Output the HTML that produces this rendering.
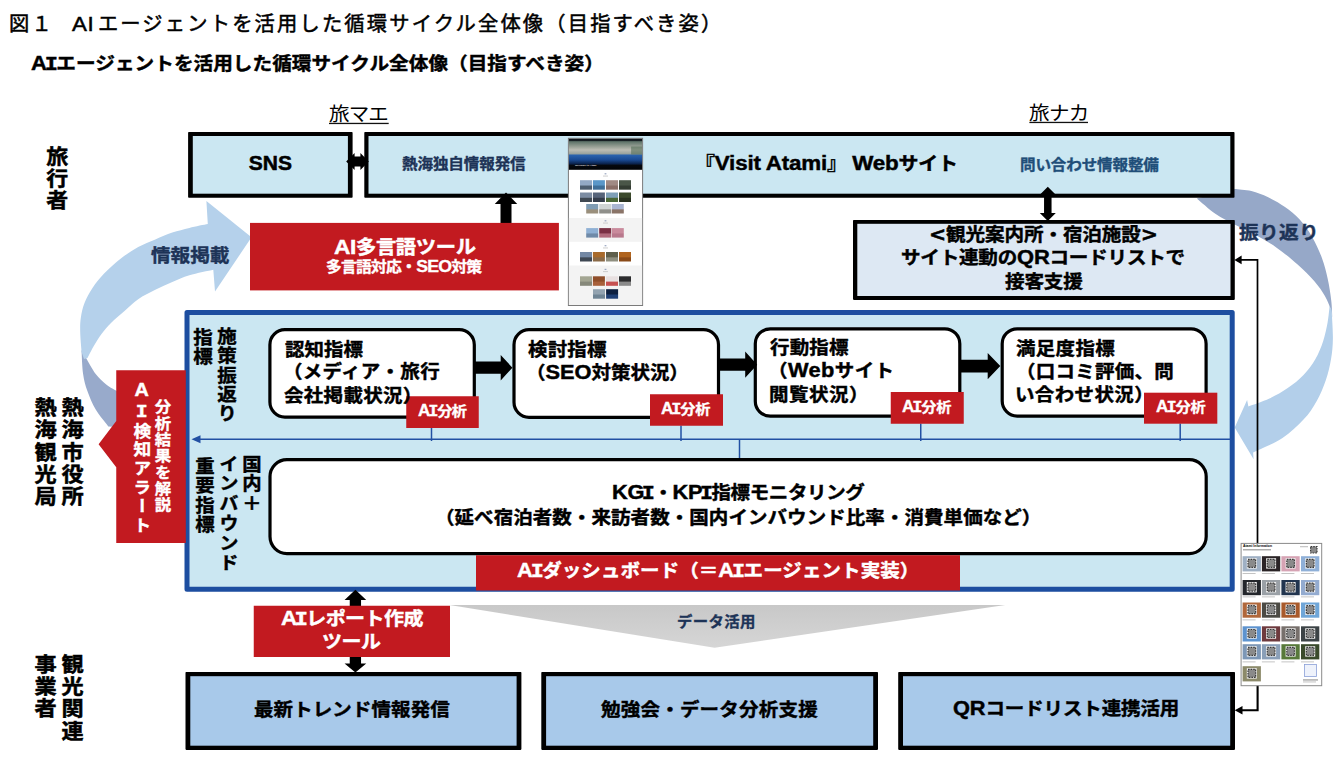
<!DOCTYPE html>
<html lang="ja">
<head>
<meta charset="utf-8">
<title>図１ AIエージェントを活用した循環サイクル全体像（目指すべき姿）</title>
<style>
html,body{margin:0;padding:0;background:#fff;}
body{width:1340px;height:762px;overflow:hidden;position:relative;font-family:"Liberation Sans","Noto Sans CJK JP",sans-serif;color:#000;}
.t{position:absolute;white-space:nowrap;line-height:1;margin:0;padding:0;transform-origin:0 0;}
.b{font-weight:700;-webkit-text-stroke:0.024em;}
.reg{font-weight:400;}
.med{font-weight:400;-webkit-text-stroke:0.5px;}
.w{color:#fff;}
.navy{color:#1d3357;}
.l{font-size:1.12em;}
.dj{font-family:"DejaVu Sans",sans-serif;font-size:1.05em;}
.si{font-family:"Liberation Mono",monospace;letter-spacing:-0.07em;margin-left:-0.1em;}
.v{writing-mode:vertical-rl;text-orientation:upright;}
#stage{position:absolute;left:0;top:0;width:1340px;height:762px;overflow:hidden;}svg{position:absolute;left:0;top:0;}
</style>
</head>
<body>
<div id="stage">
<svg width="1340" height="762" viewBox="0 0 1340 762">
<defs>
<linearGradient id="gG" x1="0" y1="0" x2="0" y2="1"><stop offset="0" stop-color="#c8c8c8"/><stop offset="1" stop-color="#d6d6d6"/></linearGradient>
</defs>
<path d="M1234.6,188.9 C1237.4,189.2 1245.8,189.6 1251.4,191.0 C1257.0,192.4 1262.6,194.6 1268.2,197.3 C1273.8,200.0 1279.8,203.3 1285.0,207.0 C1290.2,210.7 1295.2,214.6 1299.7,219.6 C1304.2,224.6 1308.6,230.8 1312.3,237.2 C1316.0,243.6 1319.4,251.2 1322.0,258.2 C1324.6,265.2 1326.3,272.2 1327.8,279.2 C1329.3,286.2 1330.5,293.7 1331.2,300.2 C1332.0,306.7 1332.1,315.0 1332.3,318.0 L1332.3,318 C1332.0,316.4 1331.6,312.3 1330.4,308.6 C1329.2,304.9 1327.6,300.6 1324.9,296.0 C1322.2,291.4 1319.0,286.6 1314.4,281.3 C1309.9,276.1 1303.9,270.1 1297.6,264.5 C1291.3,258.9 1283.6,252.6 1276.6,247.7 C1269.6,242.8 1262.6,238.9 1255.6,235.1 C1248.6,231.2 1241.2,228.1 1234.6,224.6 C1227.9,221.1 1222.0,218.4 1215.7,214.1 C1209.4,209.8 1200.0,201.2 1196.8,198.6 Z" fill="#96a8c8"/>
<path d="M1331.6,310.0 C1331.8,314.7 1333.0,330.0 1332.9,338.2 C1332.8,346.4 1332.2,352.2 1331.0,359.2 C1329.8,366.2 1328.2,373.2 1325.8,380.2 C1323.4,387.2 1320.3,394.6 1316.6,401.2 C1312.9,407.8 1309.2,413.5 1303.5,419.6 C1297.8,425.7 1290.4,432.8 1282.5,438.0 C1274.6,443.2 1261.1,448.7 1256.2,451.1 C1251.3,453.5 1253.6,452.2 1253.1,452.4 L1253.6,459.2 L1234.7,427.5 L1247.1,399.9 L1248.4,406.5 C1251.9,405.2 1262.9,401.7 1269.4,398.6 C1276.0,395.5 1282.0,392.0 1287.7,388.1 C1293.4,384.2 1298.9,379.8 1303.5,375.0 C1308.1,370.2 1312.0,364.9 1315.3,359.2 C1318.6,353.5 1321.2,347.0 1323.2,340.9 C1325.2,334.8 1326.5,328.3 1327.6,322.5 C1328.7,316.7 1329.3,308.8 1329.6,306.0 Z" fill="#b3cfea"/>
<path d="M81.5,350.0 C81.8,354.0 82.1,367.2 83.1,374.0 C84.1,380.8 85.2,384.9 87.3,390.8 C89.4,396.7 92.2,403.7 95.7,409.6 C99.2,415.5 106.2,423.6 108.3,426.4 L118,427 L118,391.5 L116.3,390.8 C114.6,389.8 109.6,387.3 106.2,384.5 C102.8,381.7 99.0,378.4 95.7,374.0 C92.4,369.6 87.8,360.8 86.2,358.2 Z" fill="#98aacb"/>
<path d="M206.4,201.1 L251.5,237.3 L215,291.5 L213.3,269.8 C209.3,270.7 196.2,273.2 189.4,275.3 C182.6,277.4 178.0,279.7 172.3,282.1 C166.6,284.5 161.0,287.0 155.3,289.8 C149.6,292.6 143.3,295.7 138.2,299.2 C133.1,302.7 129.0,307.0 124.5,311.0 C120.0,315.0 114.8,319.2 111.0,323.0 C107.2,326.8 104.4,330.1 101.5,334.0 C98.6,337.9 95.8,342.5 93.5,346.5 C91.2,350.5 88.5,356.1 87.5,358.0 L84,359 L81.6,352 C81.4,348.7 80.3,337.7 80.2,332.0 C80.1,326.3 80.1,322.8 80.8,318.0 C81.5,313.2 82.5,308.0 84.5,303.0 C86.5,298.0 89.2,292.9 92.5,288.0 C95.8,283.1 99.3,278.6 104.1,273.6 C108.9,268.6 115.5,262.6 121.2,258.2 C126.9,253.8 132.5,250.2 138.2,247.1 C143.9,244.0 149.6,241.9 155.3,239.5 C161.0,237.1 166.6,234.5 172.3,232.6 C178.0,230.7 183.5,229.3 189.4,227.9 C195.3,226.5 204.7,224.7 207.8,224.1 Z" fill="#b5d1eb"/>
<polygon points="449.5,605 1005.3,605 714.6,647.8" fill="url(#gG)"/>
<rect x="188.10" y="132.00" width="164.50" height="65.70" fill="#000" rx="0.8"/><rect x="192.80" y="136.00" width="155.10" height="57.70" fill="#cbe7f2"/>
<rect x="329.00" y="122.80" width="59.70" height="1.30" fill="#111"/>
<rect x="1029.40" y="121.80" width="58.60" height="1.30" fill="#111"/>
<rect x="364.30" y="132.00" width="870.20" height="65.70" fill="#000" rx="0.8"/><rect x="368.50" y="136.00" width="861.80" height="57.70" fill="#cbe7f2"/>
<polygon points="346.20,161.50 354.60,153.00 354.60,156.50 360.40,156.50 360.40,153.00 368.80,161.50 360.40,170.00 360.40,166.50 354.60,166.50 354.60,170.00" fill="#000"/>
<polygon points="500.50,204.00 494.75,204.00 506.00,192.50 517.25,204.00 511.50,204.00 511.50,224.00 500.50,224.00" fill="#000"/>
<rect x="250.00" y="222.90" width="308.90" height="67.50" fill="#c21a20"/>
<rect x="853.00" y="219.90" width="381.80" height="80.00" fill="#000" rx="0.8"/><rect x="857.30" y="223.80" width="373.20" height="72.20" fill="#dde8f3"/>
<polygon points="1044.05,194.70 1039.80,194.70 1047.80,186.70 1055.80,194.70 1051.55,194.70 1051.55,213.00 1055.80,213.00 1047.80,221.00 1039.80,213.00 1044.05,213.00" fill="#000"/>
<rect x="187.00" y="312.40" width="1045.20" height="276.80" rx="0" ry="0" fill="#cbe7f2" stroke="#1d4ea0" stroke-width="5" stroke-linejoin="round"/>
<g stroke="#2250a3" stroke-width="1.5" fill="none">
<line x1="198" y1="439.3" x2="1232" y2="439.3"/>
<line x1="431.5" y1="428" x2="431.5" y2="441"/>
<line x1="681" y1="425.5" x2="681" y2="441"/>
<line x1="920.75" y1="423.5" x2="920.75" y2="441"/>
<line x1="1180.2" y1="423.5" x2="1180.2" y2="441"/>
<line x1="739.5" y1="439.3" x2="739.5" y2="460"/>
</g>
<polygon points="191.5,439.3 200.5,435.3 200.5,443.3" fill="#2250a3"/>
<rect x="269.90" y="329.70" width="204.40" height="87.40" rx="15" ry="15" fill="#fff" stroke="#000" stroke-width="3.2" stroke-linejoin="round"/>
<rect x="514.00" y="329.70" width="204.50" height="87.60" rx="15" ry="15" fill="#fff" stroke="#000" stroke-width="3.2" stroke-linejoin="round"/>
<rect x="755.30" y="328.80" width="204.50" height="87.40" rx="15" ry="15" fill="#fff" stroke="#000" stroke-width="3.2" stroke-linejoin="round"/>
<rect x="1002.20" y="328.80" width="203.90" height="87.30" rx="15" ry="15" fill="#fff" stroke="#000" stroke-width="3.2" stroke-linejoin="round"/>
<polygon points="475.00,361.60 500.70,361.60 500.70,354.90 512.40,367.70 500.70,380.50 500.70,373.80 475.00,373.80" fill="#000"/>
<polygon points="719.00,358.60 745.20,358.60 745.20,351.60 757.20,364.70 745.20,377.80 745.20,370.80 719.00,370.80" fill="#000"/>
<polygon points="960.50,359.80 987.70,359.80 987.70,353.00 1000.30,366.10 987.70,379.20 987.70,372.40 960.50,372.40" fill="#000"/>
<rect x="270.00" y="459.60" width="936.20" height="94.00" rx="17" ry="17" fill="#fff" stroke="#000" stroke-width="3.2" stroke-linejoin="round"/>
<rect x="406.25" y="396.25" width="72.50" height="31.75" fill="#c21a20"/>
<rect x="650.00" y="394.25" width="73.00" height="31.50" fill="#c21a20"/>
<rect x="890.75" y="392.00" width="73.00" height="31.75" fill="#c21a20"/>
<rect x="1144.00" y="392.70" width="73.30" height="31.00" fill="#c21a20"/>
<rect x="476.00" y="555.20" width="484.00" height="35.30" fill="#c21a20"/>
<polygon points="116.25,370.2 185.8,370.2 185.8,543 116.25,543 116.25,467.2 98.6,444.2 116.25,421" fill="#c21a20"/>
<polygon points="349.75,600.10 344.55,600.10 355.40,589.70 366.25,600.10 361.05,600.10 361.05,606.50 349.75,606.50" fill="#000"/>
<polygon points="349.75,656.00 361.05,656.00 361.05,663.60 366.25,663.60 355.40,672.60 344.55,663.60 349.75,663.60" fill="#000"/>
<rect x="253.75" y="605.75" width="196.25" height="51.25" fill="#c21a20"/>
<rect x="185.50" y="672.00" width="335.90" height="77.90" fill="#000" rx="0.8"/><rect x="190.30" y="676.20" width="326.30" height="69.50" fill="#a8c9ea"/>
<rect x="541.30" y="672.00" width="336.70" height="77.90" fill="#000" rx="0.8"/><rect x="546.10" y="676.20" width="327.10" height="69.50" fill="#a8c9ea"/>
<rect x="898.20" y="672.00" width="336.80" height="77.90" fill="#000" rx="0.8"/><rect x="903.00" y="676.20" width="327.20" height="69.50" fill="#a8c9ea"/>
<polyline points="1240,259.9 1257.5,259.9 1257.5,545" fill="none" stroke="#000" stroke-width="1.7"/>
<polyline points="1257.6,684 1257.6,710.2 1240,710.2" fill="none" stroke="#000" stroke-width="2.1"/>
<polygon points="1234.4,259.9 1241.6,255.5 1241.6,264.3" fill="#000"/>
<polygon points="1234.7,710.2 1242.5,706 1242.5,714.4" fill="#000"/>
<rect x="568.4" y="138.3" width="74.20000000000005" height="167.2" fill="#fff" stroke="#7a7a7a" stroke-width="1"/>
<defs><linearGradient id="gH" x1="0" y1="0" x2="0" y2="1"><stop offset="0" stop-color="#10151a"/><stop offset="0.07" stop-color="#1a2226"/><stop offset="0.09" stop-color="#5d7268"/><stop offset="0.22" stop-color="#8c978c"/><stop offset="0.36" stop-color="#bdbdb4"/><stop offset="0.48" stop-color="#9aa39e"/><stop offset="0.53" stop-color="#2a62ad"/><stop offset="0.68" stop-color="#1a4a93"/><stop offset="0.8" stop-color="#0b244f"/><stop offset="0.86" stop-color="#05080e"/><stop offset="1" stop-color="#030406"/></linearGradient></defs>
<rect x="568.9" y="138.8" width="73.20000000000005" height="31.0" fill="url(#gH)"/>
<rect x="631.1" y="146.5" width="11" height="8" fill="#4f6a52" opacity="0.55"/>
<rect x="568.90" y="218.00" width="73.20" height="23.80" fill="#f3f3f3"/>
<rect x="568.90" y="265.50" width="73.20" height="39.50" fill="#f3f3f3"/>
<linearGradient id="th1" x1="0" y1="0" x2="0" y2="1"><stop offset="0.15" stop-color="#93a9c4"/><stop offset="0.5" stop-color="#93a9c4"/><stop offset="0.62" stop-color="#4e5f70"/><stop offset="1" stop-color="#4e5f70"/></linearGradient>
<rect x="580.0" y="180.2" width="12" height="9.5" fill="url(#th1)"/>
<linearGradient id="th2" x1="0" y1="0" x2="0" y2="1"><stop offset="0.15" stop-color="#5a97c8"/><stop offset="0.5" stop-color="#5a97c8"/><stop offset="0.62" stop-color="#3f6f98"/><stop offset="1" stop-color="#3f6f98"/></linearGradient>
<rect x="592.9" y="180.2" width="12" height="9.5" fill="url(#th2)"/>
<linearGradient id="th3" x1="0" y1="0" x2="0" y2="1"><stop offset="0.15" stop-color="#a08a84"/><stop offset="0.5" stop-color="#a08a84"/><stop offset="0.62" stop-color="#8a6f68"/><stop offset="1" stop-color="#8a6f68"/></linearGradient>
<rect x="606.0" y="180.2" width="12" height="9.5" fill="url(#th3)"/>
<linearGradient id="th4" x1="0" y1="0" x2="0" y2="1"><stop offset="0.15" stop-color="#4a5648"/><stop offset="0.5" stop-color="#4a5648"/><stop offset="0.62" stop-color="#343d33"/><stop offset="1" stop-color="#343d33"/></linearGradient>
<rect x="619.0" y="180.2" width="12" height="9.5" fill="url(#th4)"/>
<linearGradient id="th5" x1="0" y1="0" x2="0" y2="1"><stop offset="0.15" stop-color="#7c8ca2"/><stop offset="0.5" stop-color="#7c8ca2"/><stop offset="0.62" stop-color="#3f4852"/><stop offset="1" stop-color="#3f4852"/></linearGradient>
<rect x="580.0" y="192.5" width="12" height="9.5" fill="url(#th5)"/>
<linearGradient id="th6" x1="0" y1="0" x2="0" y2="1"><stop offset="0.15" stop-color="#56647a"/><stop offset="0.5" stop-color="#56647a"/><stop offset="0.62" stop-color="#333c4a"/><stop offset="1" stop-color="#333c4a"/></linearGradient>
<rect x="592.9" y="192.5" width="12" height="9.5" fill="url(#th6)"/>
<linearGradient id="th7" x1="0" y1="0" x2="0" y2="1"><stop offset="0.15" stop-color="#7fa0b8"/><stop offset="0.5" stop-color="#7fa0b8"/><stop offset="0.62" stop-color="#4a6838"/><stop offset="1" stop-color="#4a6838"/></linearGradient>
<rect x="606.0" y="192.5" width="12" height="9.5" fill="url(#th7)"/>
<linearGradient id="th8" x1="0" y1="0" x2="0" y2="1"><stop offset="0.15" stop-color="#3c4a2c"/><stop offset="0.5" stop-color="#3c4a2c"/><stop offset="0.62" stop-color="#2a3320"/><stop offset="1" stop-color="#2a3320"/></linearGradient>
<rect x="619.0" y="192.5" width="12" height="9.5" fill="url(#th8)"/>
<linearGradient id="th9" x1="0" y1="0" x2="0" y2="1"><stop offset="0.15" stop-color="#7f9cb4"/><stop offset="0.5" stop-color="#7f9cb4"/><stop offset="0.62" stop-color="#9a8f7c"/><stop offset="1" stop-color="#9a8f7c"/></linearGradient>
<rect x="586.2" y="204.0" width="12" height="9.5" fill="url(#th9)"/>
<linearGradient id="th10" x1="0" y1="0" x2="0" y2="1"><stop offset="0.15" stop-color="#cfd4d4"/><stop offset="0.5" stop-color="#cfd4d4"/><stop offset="0.62" stop-color="#8f8f8a"/><stop offset="1" stop-color="#8f8f8a"/></linearGradient>
<rect x="599.2" y="204.0" width="12" height="9.5" fill="url(#th10)"/>
<linearGradient id="th11" x1="0" y1="0" x2="0" y2="1"><stop offset="0.15" stop-color="#aab6d2"/><stop offset="0.5" stop-color="#aab6d2"/><stop offset="0.62" stop-color="#8a7468"/><stop offset="1" stop-color="#8a7468"/></linearGradient>
<rect x="611.8" y="204.0" width="12" height="9.5" fill="url(#th11)"/>
<linearGradient id="th12" x1="0" y1="0" x2="0" y2="1"><stop offset="0.15" stop-color="#8fb0d4"/><stop offset="0.5" stop-color="#8fb0d4"/><stop offset="0.62" stop-color="#6f8aa8"/><stop offset="1" stop-color="#6f8aa8"/></linearGradient>
<rect x="586.2" y="228.1" width="12" height="9.5" fill="url(#th12)"/>
<linearGradient id="th13" x1="0" y1="0" x2="0" y2="1"><stop offset="0.15" stop-color="#7a3044"/><stop offset="0.5" stop-color="#7a3044"/><stop offset="0.62" stop-color="#b06a7c"/><stop offset="1" stop-color="#b06a7c"/></linearGradient>
<rect x="599.2" y="228.1" width="12" height="9.5" fill="url(#th13)"/>
<linearGradient id="th14" x1="0" y1="0" x2="0" y2="1"><stop offset="0.15" stop-color="#c98a9c"/><stop offset="0.5" stop-color="#c98a9c"/><stop offset="0.62" stop-color="#b8788c"/><stop offset="1" stop-color="#b8788c"/></linearGradient>
<rect x="611.8" y="228.1" width="12" height="9.5" fill="url(#th14)"/>
<linearGradient id="th15" x1="0" y1="0" x2="0" y2="1"><stop offset="0.15" stop-color="#7488a4"/><stop offset="0.5" stop-color="#7488a4"/><stop offset="0.62" stop-color="#3f4854"/><stop offset="1" stop-color="#3f4854"/></linearGradient>
<rect x="580.0" y="252.0" width="12" height="9.5" fill="url(#th15)"/>
<linearGradient id="th16" x1="0" y1="0" x2="0" y2="1"><stop offset="0.15" stop-color="#a86a2c"/><stop offset="0.5" stop-color="#a86a2c"/><stop offset="0.62" stop-color="#8a6a48"/><stop offset="1" stop-color="#8a6a48"/></linearGradient>
<rect x="592.9" y="252.0" width="12" height="9.5" fill="url(#th16)"/>
<linearGradient id="th17" x1="0" y1="0" x2="0" y2="1"><stop offset="0.15" stop-color="#5f5f4c"/><stop offset="0.5" stop-color="#5f5f4c"/><stop offset="0.62" stop-color="#8f8f80"/><stop offset="1" stop-color="#8f8f80"/></linearGradient>
<rect x="606.0" y="252.0" width="12" height="9.5" fill="url(#th17)"/>
<linearGradient id="th18" x1="0" y1="0" x2="0" y2="1"><stop offset="0.15" stop-color="#b0641f"/><stop offset="0.5" stop-color="#b0641f"/><stop offset="0.62" stop-color="#8a4a18"/><stop offset="1" stop-color="#8a4a18"/></linearGradient>
<rect x="619.0" y="252.0" width="12" height="9.5" fill="url(#th18)"/>
<linearGradient id="th19" x1="0" y1="0" x2="0" y2="1"><stop offset="0.15" stop-color="#a3a592"/><stop offset="0.5" stop-color="#a3a592"/><stop offset="0.62" stop-color="#86887a"/><stop offset="1" stop-color="#86887a"/></linearGradient>
<rect x="580.0" y="276.3" width="12" height="9.5" fill="url(#th19)"/>
<linearGradient id="th20" x1="0" y1="0" x2="0" y2="1"><stop offset="0.15" stop-color="#8f4e2a"/><stop offset="0.5" stop-color="#8f4e2a"/><stop offset="0.62" stop-color="#a8603a"/><stop offset="1" stop-color="#a8603a"/></linearGradient>
<rect x="592.9" y="276.3" width="12" height="9.5" fill="url(#th20)"/>
<linearGradient id="th21" x1="0" y1="0" x2="0" y2="1"><stop offset="0.15" stop-color="#e8e0e0"/><stop offset="0.5" stop-color="#e8e0e0"/><stop offset="0.62" stop-color="#c65050"/><stop offset="1" stop-color="#c65050"/></linearGradient>
<rect x="606.0" y="276.3" width="12" height="9.5" fill="url(#th21)"/>
<linearGradient id="th22" x1="0" y1="0" x2="0" y2="1"><stop offset="0.15" stop-color="#2c2c2e"/><stop offset="0.5" stop-color="#2c2c2e"/><stop offset="0.62" stop-color="#8a8a8a"/><stop offset="1" stop-color="#8a8a8a"/></linearGradient>
<rect x="619.0" y="276.3" width="12" height="9.5" fill="url(#th22)"/>
<linearGradient id="th23" x1="0" y1="0" x2="0" y2="1"><stop offset="0.15" stop-color="#93a3b0"/><stop offset="0.5" stop-color="#93a3b0"/><stop offset="0.62" stop-color="#6f8494"/><stop offset="1" stop-color="#6f8494"/></linearGradient>
<rect x="593.0" y="289.2" width="12" height="9.5" fill="url(#th23)"/>
<linearGradient id="th24" x1="0" y1="0" x2="0" y2="1"><stop offset="0.15" stop-color="#0f2140"/><stop offset="0.5" stop-color="#0f2140"/><stop offset="0.62" stop-color="#1f3f74"/><stop offset="1" stop-color="#1f3f74"/></linearGradient>
<rect x="606.1" y="289.2" width="12" height="9.5" fill="url(#th24)"/>
<rect x="603.00" y="175.60" width="5.00" height="0.90" fill="#c9c9c9"/>
<rect x="604.60" y="173.20" width="1.80" height="1.20" fill="#9aa6c0"/>
<rect x="603.00" y="222.60" width="5.00" height="0.90" fill="#c9c9c9"/>
<rect x="604.60" y="220.20" width="1.80" height="1.20" fill="#9aa6c0"/>
<rect x="603.00" y="247.50" width="5.00" height="0.90" fill="#c9c9c9"/>
<rect x="604.60" y="245.10" width="1.80" height="1.20" fill="#9aa6c0"/>
<rect x="603.00" y="271.20" width="5.00" height="0.90" fill="#c9c9c9"/>
<rect x="604.60" y="268.80" width="1.80" height="1.20" fill="#9aa6c0"/>
<rect x="1241.1" y="543.4" width="80.60000000000014" height="142.30000000000007" fill="#fff" stroke="#8a8a8a" stroke-width="1"/>
<rect x="1242.60" y="556.20" width="18.30" height="15.20" fill="#9fb0c4"/>
<rect x="1246.80" y="558.20" width="10.00" height="10.40" fill="#f0f0f0"/>
<rect x="1248.0" y="559.4" width="7.6" height="8" fill="#8a8a8a" stroke="#3c3c3c" stroke-width="1.2" stroke-dasharray="1.6 1"/>
<rect x="1261.90" y="556.20" width="18.30" height="15.20" fill="#2a2326"/>
<rect x="1266.10" y="558.20" width="10.00" height="10.40" fill="#f0f0f0"/>
<rect x="1267.3" y="559.4" width="7.6" height="8" fill="#8a8a8a" stroke="#3c3c3c" stroke-width="1.2" stroke-dasharray="1.6 1"/>
<rect x="1281.40" y="556.20" width="18.30" height="15.20" fill="#d6a3b4"/>
<rect x="1285.60" y="558.20" width="10.00" height="10.40" fill="#f0f0f0"/>
<rect x="1286.8" y="559.4" width="7.6" height="8" fill="#8a8a8a" stroke="#3c3c3c" stroke-width="1.2" stroke-dasharray="1.6 1"/>
<rect x="1301.00" y="556.20" width="18.30" height="15.20" fill="#8fb0d8"/>
<rect x="1305.20" y="558.20" width="10.00" height="10.40" fill="#f0f0f0"/>
<rect x="1306.4" y="559.4" width="7.6" height="8" fill="#8a8a8a" stroke="#3c3c3c" stroke-width="1.2" stroke-dasharray="1.6 1"/>
<rect x="1242.60" y="580.00" width="18.30" height="15.20" fill="#23262b"/>
<rect x="1246.80" y="582.00" width="10.00" height="10.40" fill="#f0f0f0"/>
<rect x="1248.0" y="583.2" width="7.6" height="8" fill="#8a8a8a" stroke="#3c3c3c" stroke-width="1.2" stroke-dasharray="1.6 1"/>
<rect x="1261.90" y="580.00" width="18.30" height="15.20" fill="#9aa0a6"/>
<rect x="1266.10" y="582.00" width="10.00" height="10.40" fill="#f0f0f0"/>
<rect x="1267.3" y="583.2" width="7.6" height="8" fill="#8a8a8a" stroke="#3c3c3c" stroke-width="1.2" stroke-dasharray="1.6 1"/>
<rect x="1281.40" y="580.00" width="18.30" height="15.20" fill="#22354f"/>
<rect x="1285.60" y="582.00" width="10.00" height="10.40" fill="#f0f0f0"/>
<rect x="1286.8" y="583.2" width="7.6" height="8" fill="#8a8a8a" stroke="#3c3c3c" stroke-width="1.2" stroke-dasharray="1.6 1"/>
<rect x="1301.00" y="580.00" width="18.30" height="15.20" fill="#93abd0"/>
<rect x="1305.20" y="582.00" width="10.00" height="10.40" fill="#f0f0f0"/>
<rect x="1306.4" y="583.2" width="7.6" height="8" fill="#8a8a8a" stroke="#3c3c3c" stroke-width="1.2" stroke-dasharray="1.6 1"/>
<rect x="1242.60" y="602.50" width="18.30" height="15.20" fill="#b0683c"/>
<rect x="1246.80" y="604.50" width="10.00" height="10.40" fill="#f0f0f0"/>
<rect x="1248.0" y="605.7" width="7.6" height="8" fill="#8a8a8a" stroke="#3c3c3c" stroke-width="1.2" stroke-dasharray="1.6 1"/>
<rect x="1261.90" y="602.50" width="18.30" height="15.20" fill="#4c4a44"/>
<rect x="1266.10" y="604.50" width="10.00" height="10.40" fill="#f0f0f0"/>
<rect x="1267.3" y="605.7" width="7.6" height="8" fill="#8a8a8a" stroke="#3c3c3c" stroke-width="1.2" stroke-dasharray="1.6 1"/>
<rect x="1281.40" y="602.50" width="18.30" height="15.20" fill="#a85a2c"/>
<rect x="1285.60" y="604.50" width="10.00" height="10.40" fill="#f0f0f0"/>
<rect x="1286.8" y="605.7" width="7.6" height="8" fill="#8a8a8a" stroke="#3c3c3c" stroke-width="1.2" stroke-dasharray="1.6 1"/>
<rect x="1301.00" y="602.50" width="18.30" height="15.20" fill="#6fa6d8"/>
<rect x="1305.20" y="604.50" width="10.00" height="10.40" fill="#f0f0f0"/>
<rect x="1306.4" y="605.7" width="7.6" height="8" fill="#8a8a8a" stroke="#3c3c3c" stroke-width="1.2" stroke-dasharray="1.6 1"/>
<rect x="1242.60" y="626.30" width="18.30" height="15.20" fill="#5d93cf"/>
<rect x="1246.80" y="628.30" width="10.00" height="10.40" fill="#f0f0f0"/>
<rect x="1248.0" y="629.5" width="7.6" height="8" fill="#8a8a8a" stroke="#3c3c3c" stroke-width="1.2" stroke-dasharray="1.6 1"/>
<rect x="1261.90" y="626.30" width="18.30" height="15.20" fill="#6e3a3e"/>
<rect x="1266.10" y="628.30" width="10.00" height="10.40" fill="#f0f0f0"/>
<rect x="1267.3" y="629.5" width="7.6" height="8" fill="#8a8a8a" stroke="#3c3c3c" stroke-width="1.2" stroke-dasharray="1.6 1"/>
<rect x="1281.40" y="626.30" width="18.30" height="15.20" fill="#77706c"/>
<rect x="1285.60" y="628.30" width="10.00" height="10.40" fill="#f0f0f0"/>
<rect x="1286.8" y="629.5" width="7.6" height="8" fill="#8a8a8a" stroke="#3c3c3c" stroke-width="1.2" stroke-dasharray="1.6 1"/>
<rect x="1301.00" y="626.30" width="18.30" height="15.20" fill="#3c4346"/>
<rect x="1305.20" y="628.30" width="10.00" height="10.40" fill="#f0f0f0"/>
<rect x="1306.4" y="629.5" width="7.6" height="8" fill="#8a8a8a" stroke="#3c3c3c" stroke-width="1.2" stroke-dasharray="1.6 1"/>
<rect x="1242.60" y="644.20" width="18.30" height="15.20" fill="#7d97b6"/>
<rect x="1246.80" y="646.20" width="10.00" height="10.40" fill="#f0f0f0"/>
<rect x="1248.0" y="647.4" width="7.6" height="8" fill="#8a8a8a" stroke="#3c3c3c" stroke-width="1.2" stroke-dasharray="1.6 1"/>
<rect x="1261.90" y="644.20" width="18.30" height="15.20" fill="#8a9fb8"/>
<rect x="1266.10" y="646.20" width="10.00" height="10.40" fill="#f0f0f0"/>
<rect x="1267.3" y="647.4" width="7.6" height="8" fill="#8a8a8a" stroke="#3c3c3c" stroke-width="1.2" stroke-dasharray="1.6 1"/>
<rect x="1281.40" y="644.20" width="18.30" height="15.20" fill="#58793a"/>
<rect x="1285.60" y="646.20" width="10.00" height="10.40" fill="#f0f0f0"/>
<rect x="1286.8" y="647.4" width="7.6" height="8" fill="#8a8a8a" stroke="#3c3c3c" stroke-width="1.2" stroke-dasharray="1.6 1"/>
<rect x="1301.00" y="644.20" width="18.30" height="15.20" fill="#3a4a2c"/>
<rect x="1305.20" y="646.20" width="10.00" height="10.40" fill="#f0f0f0"/>
<rect x="1306.4" y="647.4" width="7.6" height="8" fill="#8a8a8a" stroke="#3c3c3c" stroke-width="1.2" stroke-dasharray="1.6 1"/>
<rect x="1242.60" y="666.20" width="18.30" height="15.20" fill="#8c8a6a"/>
<rect x="1246.80" y="668.20" width="10.00" height="10.40" fill="#f0f0f0"/>
<rect x="1248.0" y="669.4" width="7.6" height="8" fill="#8a8a8a" stroke="#3c3c3c" stroke-width="1.2" stroke-dasharray="1.6 1"/>
<rect x="1310.6" y="546.6" width="6.4" height="6.4" fill="#8a8a8a" stroke="#3c3c3c" stroke-width="1.2" stroke-dasharray="1.6 1"/>
<rect x="1304.5" y="664.5" width="12" height="12" fill="#eef2fb" stroke="#8aa0d8" stroke-width="0.8"/>
<rect x="1243.00" y="549.20" width="28.00" height="1.20" fill="#9a9a9a"/>
<rect x="1300.00" y="546.30" width="8.00" height="0.90" fill="#b0b0b0"/>
<rect x="1303.00" y="679.50" width="15.00" height="0.90" fill="#777"/>
<rect x="1303.00" y="681.60" width="13.00" height="0.70" fill="#aaa"/>
<rect x="1242.60" y="573.00" width="13.00" height="0.80" fill="#b5b5b5"/>
<rect x="1261.90" y="573.00" width="13.00" height="0.80" fill="#b5b5b5"/>
<rect x="1281.40" y="573.00" width="13.00" height="0.80" fill="#b5b5b5"/>
<rect x="1301.00" y="573.00" width="13.00" height="0.80" fill="#b5b5b5"/>
<rect x="1242.60" y="596.50" width="13.00" height="0.80" fill="#b5b5b5"/>
<rect x="1261.90" y="596.50" width="13.00" height="0.80" fill="#b5b5b5"/>
<rect x="1281.40" y="596.50" width="13.00" height="0.80" fill="#b5b5b5"/>
<rect x="1301.00" y="596.50" width="13.00" height="0.80" fill="#b5b5b5"/>
<rect x="1242.60" y="619.50" width="13.00" height="0.80" fill="#b5b5b5"/>
<rect x="1261.90" y="619.50" width="13.00" height="0.80" fill="#b5b5b5"/>
<rect x="1281.40" y="619.50" width="13.00" height="0.80" fill="#b5b5b5"/>
<rect x="1301.00" y="619.50" width="13.00" height="0.80" fill="#b5b5b5"/>
<rect x="1242.60" y="661.50" width="13.00" height="0.80" fill="#b5b5b5"/>
<rect x="1261.90" y="661.50" width="13.00" height="0.80" fill="#b5b5b5"/>
<rect x="1281.40" y="661.50" width="13.00" height="0.80" fill="#b5b5b5"/>
<rect x="1301.00" y="661.50" width="13.00" height="0.80" fill="#b5b5b5"/>
</svg>
<div class="t med" style="left:8.9px;top:13.6px;font-size:20.3px;letter-spacing:2.41px;">図１</div>
<div class="t med" style="left:71.7px;top:13.7px;font-size:20.3px;letter-spacing:0.60px;transform:scaleX(1.1);">AI</div>
<div class="t med" style="left:97.9px;top:14.0px;font-size:20.3px;letter-spacing:2.16px;">エージェントを活用した循環サイクル全体像（目指すべき姿）</div>
<div class="t b" style="left:31.2px;top:53.3px;font-size:18.16px;letter-spacing:0.04px;transform:scaleX(1.08);"><span class="l">A<span class="si">I</span></span>エージェントを活用した循環サイクル全体像（目指すべき姿）</div>
<div class="t reg" style="left:328.9px;top:105.2px;font-size:19px;letter-spacing:-0.82px;transform:scaleX(1.08);">旅マエ</div>
<div class="t reg" style="left:1029.2px;top:104.0px;font-size:19px;letter-spacing:-0.55px;transform:scaleX(1.08);">旅ナカ</div>
<div class="t b" style="left:248.8px;top:151.5px;font-size:21px;letter-spacing:-0.01px;">SNS</div>
<div class="t b navy" style="left:402.4px;top:157.1px;font-size:14.43px;letter-spacing:-0.12px;transform:scaleX(1.08);">熱海独自情報発信</div>
<div class="t b" style="left:695.3px;top:152.8px;font-size:18.5px;letter-spacing:-0.18px;transform:scaleX(1.08);">『<span class="l">Visit Atami</span>』 <span class="l">Web</span>サイト</div>
<div class="t b" style="left:1019.6px;top:158.2px;font-size:14.43px;letter-spacing:-0.15px;transform:scaleX(1.08);color:#1f4e79;">問い合わせ情報整備</div>
<div class="t b w" style="left:333.6px;top:235.6px;font-size:18.78px;letter-spacing:-0.32px;transform:scaleX(1.08);"><span class="l">AI</span>多言語ツール</div>
<div class="t b w" style="left:326.3px;top:258.0px;font-size:14.62px;letter-spacing:-0.70px;transform:scaleX(1.08);">多言語対応・<span class="l">SEO</span>対策</div>
<div class="t b navy" style="left:150.8px;top:246.9px;font-size:18.22px;letter-spacing:-0.07px;transform:scaleX(1.08);">情報掲載</div>
<div class="t b navy" style="left:1239.0px;top:224.0px;font-size:18.22px;letter-spacing:0.30px;transform:scaleX(1.08);">振り返り</div>
<div class="t b" style="left:928.9px;top:224.8px;font-size:18.13px;letter-spacing:-0.09px;transform:scaleX(1.08);"><span class="dj">&lt;</span>観光案内所・宿泊施設<span class="dj">&gt;</span></div>
<div class="t b" style="left:901.0px;top:247.1px;font-size:18.13px;letter-spacing:-0.20px;transform:scaleX(1.08);">サイト連動の<span class="l">QR</span>コードリストで</div>
<div class="t b" style="left:1004.7px;top:272.9px;font-size:18.13px;letter-spacing:-0.13px;transform:scaleX(1.08);">接客支援</div>
<div class="t b" style="left:284.5px;top:341.0px;font-size:18.04px;letter-spacing:0.05px;transform:scaleX(1.08);">認知指標</div>
<div class="t b" style="left:283.4px;top:363.1px;font-size:18.04px;letter-spacing:0.29px;transform:scaleX(1.08);">（メディア・旅行</div>
<div class="t b" style="left:284.2px;top:387.1px;font-size:18.04px;letter-spacing:0.30px;transform:scaleX(1.08);">会社掲載状況）</div>
<div class="t b" style="left:528.3px;top:340.8px;font-size:18.04px;letter-spacing:0.17px;transform:scaleX(1.08);">検討指標</div>
<div class="t b" style="left:526.4px;top:362.0px;font-size:18.04px;letter-spacing:-0.01px;transform:scaleX(1.08);">（<span class="l">SEO</span>対策状況）</div>
<div class="t b" style="left:769.8px;top:339.2px;font-size:18.04px;letter-spacing:0.15px;transform:scaleX(1.08);">行動指標</div>
<div class="t b" style="left:768.2px;top:360.3px;font-size:18.04px;letter-spacing:0.38px;transform:scaleX(1.08);">（<span class="l">Web</span>サイト</div>
<div class="t b" style="left:768.8px;top:386.1px;font-size:18.04px;letter-spacing:0.49px;transform:scaleX(1.08);">閲覧状況）</div>
<div class="t b" style="left:1015.8px;top:340.0px;font-size:18.04px;letter-spacing:0.30px;transform:scaleX(1.08);">満足度指標</div>
<div class="t b" style="left:1015.9px;top:363.1px;font-size:18.04px;letter-spacing:0.25px;transform:scaleX(1.08);">（口コミ評価、問</div>
<div class="t b" style="left:1015.0px;top:386.3px;font-size:18.04px;letter-spacing:0.36px;transform:scaleX(1.08);">い合わせ状況）</div>
<div class="t b w" style="left:418.1px;top:402.7px;font-size:14.06px;letter-spacing:-0.43px;transform:scaleX(1.08);"><span class="l">A<span class="si">I</span></span>分析</div>
<div class="t b w" style="left:661.2px;top:401.0px;font-size:14.06px;letter-spacing:-0.29px;transform:scaleX(1.08);"><span class="l">A<span class="si">I</span></span>分析</div>
<div class="t b w" style="left:902.3px;top:398.8px;font-size:14.06px;letter-spacing:-0.27px;transform:scaleX(1.08);"><span class="l">A<span class="si">I</span></span>分析</div>
<div class="t b w" style="left:1155.9px;top:399.3px;font-size:14.06px;letter-spacing:-0.14px;transform:scaleX(1.08);"><span class="l">A<span class="si">I</span></span>分析</div>
<div class="t b" style="left:612.0px;top:482.3px;font-size:18.04px;letter-spacing:-0.33px;transform:scaleX(1.08);"><span class="l">KG<span class="si">I</span></span>・<span class="l">KP<span class="si">I</span></span>指標モニタリング</div>
<div class="t b" style="left:435.0px;top:509.2px;font-size:18.04px;letter-spacing:0.08px;transform:scaleX(1.08);">（延べ宿泊者数・来訪者数・国内インバウンド比率・消費単価など）</div>
<div class="t b w" style="left:517.3px;top:559.9px;font-size:18.04px;letter-spacing:0.09px;transform:scaleX(1.08);"><span class="l">A<span class="si">I</span></span>ダッシュボード（＝<span class="l">A<span class="si">I</span></span>エージェント実装）</div>
<div class="t b navy" style="left:677.2px;top:615.1px;font-size:14.25px;letter-spacing:0.33px;transform:scaleX(1.08);">データ活用</div>
<div class="t b w" style="left:280.7px;top:608.1px;font-size:18.5px;letter-spacing:-0.51px;transform:scaleX(1.08);"><span class="l">A<span class="si">I</span></span>レポート作成</div>
<div class="t b w" style="left:322.1px;top:633.1px;font-size:18.5px;letter-spacing:-0.41px;transform:scaleX(1.08);">ツール</div>
<div class="t b" style="left:254.3px;top:700.8px;font-size:18.04px;letter-spacing:0.10px;transform:scaleX(1.08);">最新トレンド情報発信</div>
<div class="t b" style="left:601.4px;top:701.1px;font-size:18.04px;letter-spacing:0.23px;transform:scaleX(1.08);">勉強会・データ分析支援</div>
<div class="t b" style="left:953.4px;top:698.4px;font-size:18.04px;letter-spacing:-0.10px;transform:scaleX(1.08);"><span class="l">QR</span>コードリスト連携活用</div>
<div class="t b v" style="left:43.9px;top:146.2px;font-size:20.35px;letter-spacing:1.63px;transform:scaleX(1.08);">旅行者</div>
<div class="t b v" style="left:58.8px;top:396.8px;font-size:20.54px;letter-spacing:1.78px;transform:scaleX(1.08);">熱海市役所</div>
<div class="t b v" style="left:32.1px;top:396.8px;font-size:20.54px;letter-spacing:1.71px;transform:scaleX(1.08);">熱海観光局</div>
<div class="t b v" style="left:59.0px;top:654.4px;font-size:20.54px;letter-spacing:1.65px;transform:scaleX(1.08);">観光関連</div>
<div class="t b v" style="left:32.0px;top:654.0px;font-size:20.54px;letter-spacing:1.62px;transform:scaleX(1.08);">事業者</div>
<div class="t b v" style="left:214.8px;top:327.2px;font-size:18.04px;letter-spacing:1.30px;transform:scaleX(1.08);">施策振返り</div>
<div class="t b v" style="left:191.2px;top:327.5px;font-size:18.04px;letter-spacing:1.52px;transform:scaleX(1.08);">指標</div>
<div class="t b v" style="left:239.0px;top:454.8px;font-size:17.95px;letter-spacing:1.50px;transform:scaleX(1.08);">国内＋</div>
<div class="t b v" style="left:215.7px;top:454.8px;font-size:17.95px;letter-spacing:1.73px;transform:scaleX(1.08);">インバウンド</div>
<div class="t b v" style="left:192.1px;top:456.8px;font-size:17.95px;letter-spacing:1.50px;transform:scaleX(1.08);">重要指標</div>
<div class="t b w v" style="left:131.1px;top:379.1px;font-size:16.46px;letter-spacing:2.39px;transform:scaleX(1.08);"><span class="l">A<span class="si">I</span></span>検知アラート</div>
<div class="t b w v" style="left:153.2px;top:398.8px;font-size:15.17px;letter-spacing:1.15px;transform:scaleX(1.08);">分析結果を解説</div>
<div class="t b" style="left:1243px;top:545.3px;font-size:3.4px;-webkit-text-stroke:0">Atami Information</div>
<div class="t b" style="left:575px;top:165.2px;font-size:2.5px;color:#d8d8d8;-webkit-text-stroke:0">Welcome to Atami</div>
</div>
</body>
</html>
